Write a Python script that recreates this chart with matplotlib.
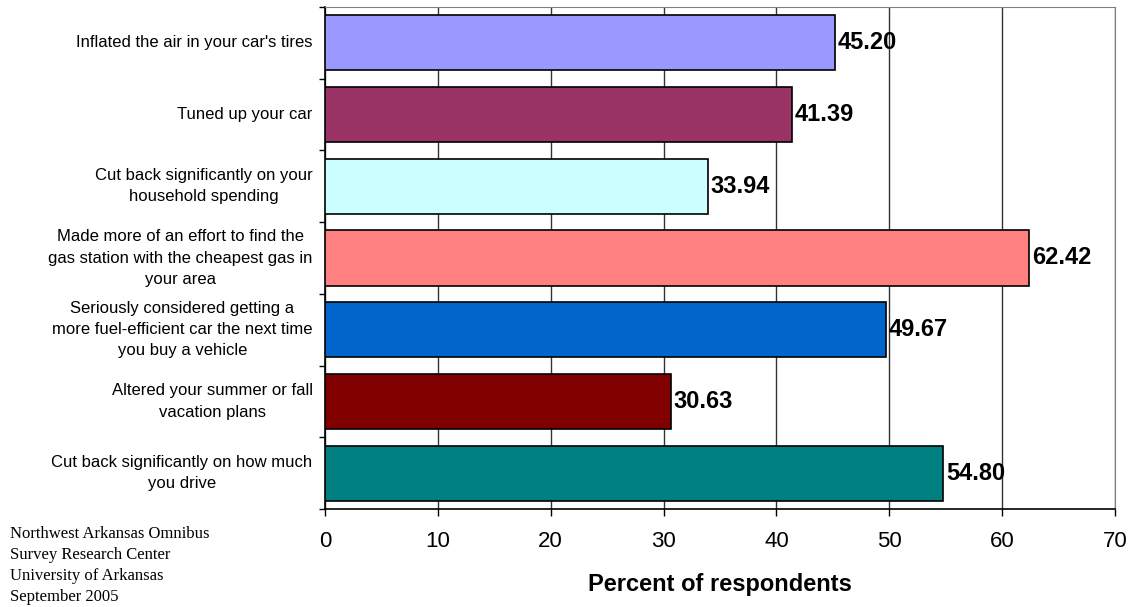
import matplotlib.pyplot as plt
import numpy as np

categories = [
    "Inflated the air in your car's tires",
    "Tuned up your car",
    "Cut back significantly on your\nhousehold spending",
    "Made more of an effort to find the\ngas station with the cheapest gas in\nyour area",
    "Seriously considered getting a\nmore fuel-efficient car the next time\nyou buy a vehicle",
    "Altered your summer or fall\nvacation plans",
    "Cut back significantly on how much\nyou drive",
]
values = [45.20, 41.39, 33.94, 62.42, 49.67, 30.63, 54.80]
colors = ["#9999FF", "#993366", "#CCFFFF", "#FF8080", "#0066CC", "#800000", "#008080"]
x_ticks = [0, 10, 20, 30, 40, 50, 60, 70]
footer = ["Northwest Arkansas Omnibus", "Survey Research Center",
          "University of Arkansas", "September 2005"]

plt.rcParams['font.family'] = ['Liberation Sans', 'DejaVu Sans']

fig = plt.figure(figsize=(11.33, 6.07), dpi=100)
ax = fig.add_axes([325 / 1133, 1 - 509 / 607, 790 / 1133, 502 / 607])

y = np.arange(len(categories))
ax.barh(y, values, height=0.77, color=colors, edgecolor='black', linewidth=1.2, zorder=3)
ax.set_ylim(len(categories) - 0.5, -0.5)
ax.set_xlim(0, 70)

for yi, v in zip(y, values):
    ax.text(v + 0.25, yi, f"{v:.2f}", va='center', ha='left',
            fontsize=17, fontweight='bold', zorder=4)

ax.set_xticks(x_ticks)
ax.set_xticklabels([str(t) for t in x_ticks], fontsize=16)
ax.tick_params(axis='x', length=5, width=1, pad=11, direction='out')
ax.xaxis.grid(True, color='#333333', linewidth=1, zorder=0)

# category boundaries as ticks, labels at centers
ax.set_yticks(np.arange(-0.5, len(categories), 1.0))
ax.set_yticklabels([])
ax.tick_params(axis='y', length=4, width=1, direction='out')
for yi, lab in zip(y, categories):
    ax.text(-1.1, yi, lab, ha='right', va='center', multialignment='center',
            fontsize=12, linespacing=1.52, transform=ax.transData, clip_on=False)

for s in ['top', 'right']:
    ax.spines[s].set_color('#808080')
for s in ['left', 'bottom']:
    ax.spines[s].set_color('black')
    ax.spines[s].set_linewidth(1.2)

fig.text(720 / 1133, 1 - 584 / 607, "Percent of respondents", fontsize=17,
         fontweight='bold', ha='center', va='center')

for i, line in enumerate(footer):
    fig.text(10 / 1133, 1 - (534 + 21 * i) / 607, line, fontsize=12,
             family='Liberation Serif', va='center', ha='left')

fig.savefig("out.png", dpi=100)
